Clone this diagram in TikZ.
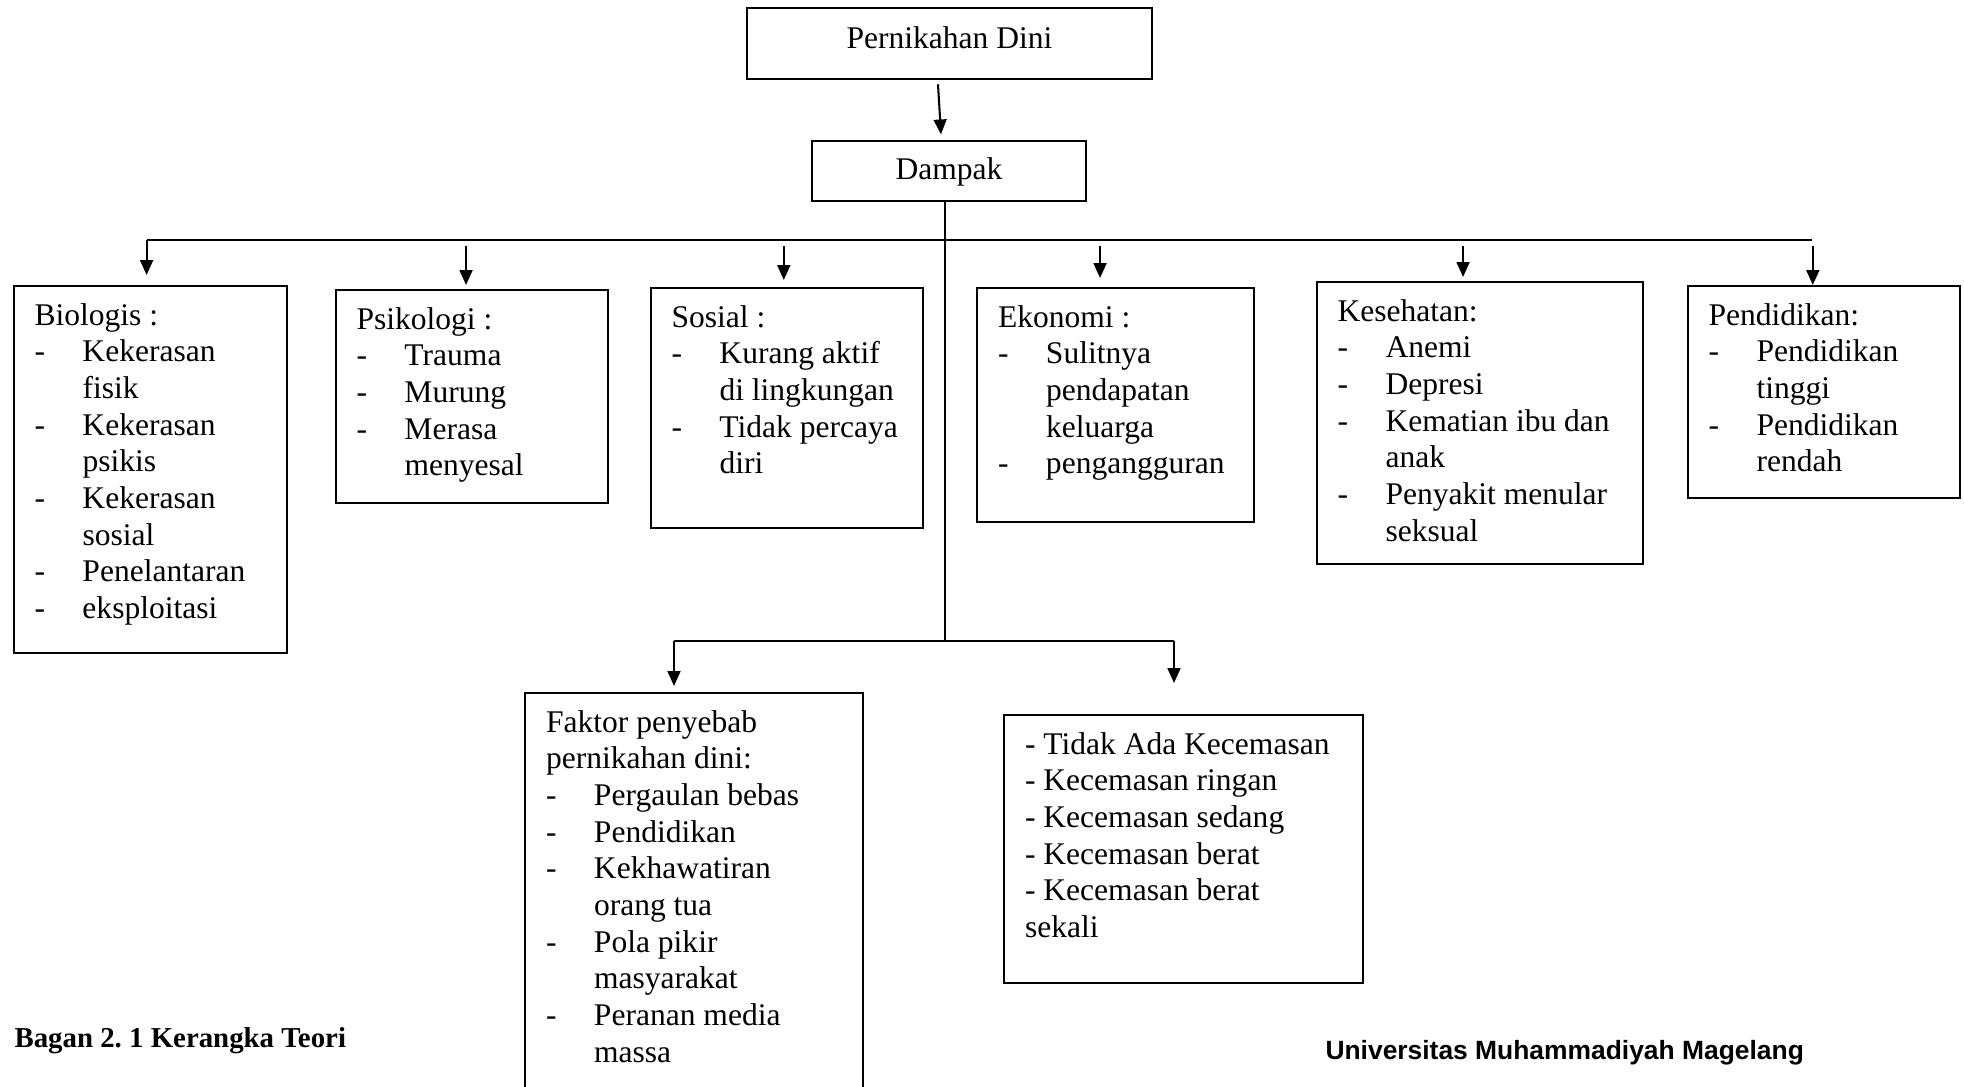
\documentclass[tikz,border=0pt]{standalone}
\usepackage{fontspec}
\setmainfont{Liberation Serif}
\newfontfamily\arialfont{Liberation Sans}
\usepackage{array}
\usepackage{tikz}
\usetikzlibrary{arrows.meta}
\usetikzlibrary{calc}
\newlength\pxl
\setlength\pxl{0.39pt}
\newcommand{\isibox}[3]{\parbox[c][#2\pxl][t]{#1\pxl}{\vspace*{5.2pt}#3}}
\newcommand{\judul}[1]{\multicolumn{2}{@{}l@{}}{#1}}
\newenvironment{daftar}{\begin{tabular}[t]{@{}p{18.7pt}@{}l@{}}}{\end{tabular}}
\tikzset{
  kotak/.style={draw, line width=0.8pt, anchor=north west, inner xsep=8.2pt, inner ysep=0pt},
  kotakjudul/.style={draw, line width=0.8pt, inner sep=0pt},
  garis/.style={line width=0.8pt},
  panah/.style={garis, -{Triangle[length=5.8pt,width=5pt]}}
}

\begin{document}
\begin{tikzpicture}[x=0.39pt, y=-0.39pt, font=\fontsize{12.3}{14.3}\selectfont]
    % Cadre
    \useasboundingbox (0,0) rectangle (1964,1086);
    \clip (0,0) rectangle (1964,1086);

    % Boites du haut
    \node[kotakjudul, minimum width=158pt, minimum height=27.5pt, text depth=4.9pt] (nikah) at (949.5,43.5) {Pernikahan Dini};
    \node[kotakjudul, minimum width=106.9pt, minimum height=23.5pt, text depth=2pt] (dampak) at (949,171) {Dampak};
    \draw[panah] ($(nikah.south)+(-11.5,4.5)$) -- ($(dampak.north)+(-8,-5.5)$);

    % Boites des dampak
    \node[kotak] (biologis) at (12.5,285) {\isibox{231}{367}{\begin{daftar}
        \judul{Biologis :}\\
        - & Kekerasan\\ & fisik\\
        - & Kekerasan\\ & psikis\\
        - & Kekerasan\\ & sosial\\
        - & Penelantaran\\
        - & eksploitasi
      \end{daftar}}};
    \node[kotak] (psikologi) at (334.5,289) {\isibox{230}{213}{\begin{daftar}
        \judul{Psikologi :}\\
        - & Trauma\\
        - & Murung\\
        - & Merasa\\ & menyesal
      \end{daftar}}};
    \node[kotak] (sosial) at (649.5,287) {\isibox{230.5}{240}{\begin{daftar}
        \judul{Sosial :}\\
        - & Kurang aktif\\ & di lingkungan\\
        - & Tidak percaya\\ & diri
      \end{daftar}}};
    \node[kotak] (ekonomi) at (976,287) {\isibox{235}{234}{\begin{daftar}
        \judul{Ekonomi :}\\
        - & Sulitnya\\ & pendapatan\\ & keluarga\\
        - & pengangguran
      \end{daftar}}};
    \node[kotak] (kesehatan) at (1315.5,281) {\isibox{284}{282}{\begin{daftar}
        \judul{Kesehatan:}\\
        - & Anemi\\
        - & Depresi\\
        - & Kematian ibu dan\\ & anak\\
        - & Penyakit menular\\ & seksual
      \end{daftar}}};
    \node[kotak] (pendidikan) at (1686.5,285) {\isibox{230.5}{212}{\begin{daftar}
        \judul{Pendidikan:}\\
        - & Pendidikan\\ & tinggi\\
        - & Pendidikan\\ & rendah
      \end{daftar}}};

    % Boites du bas
    \node[kotak] (faktor) at (524,692) {\isibox{296}{420}{\begin{daftar}
        \judul{Faktor penyebab}\\
        \judul{pernikahan dini:}\\
        - & Pergaulan bebas\\
        - & Pendidikan\\
        - & Kekhawatiran\\ & orang tua\\
        - & Pola pikir\\ & masyarakat\\
        - & Peranan media\\ & massa
      \end{daftar}}};
    \node[kotak] (kecemasan) at (1003,714) {\isibox{317}{268}{\begin{tabular}[t]{@{}l@{}}
        - Tidak Ada Kecemasan\\
        - Kecemasan ringan\\
        - Kecemasan sedang\\
        - Kecemasan berat\\
        - Kecemasan berat\\
        sekali
      \end{tabular}}};

    % Lignes de branchement
    \coordinate (busK) at (146.6,240);
    \coordinate (busKa) at (1812,240);
    \coordinate (simpang) at (945,641);
    \coordinate (cabK) at (674,641);
    \coordinate (cabKa) at (1174,641);
    \draw[garis] (dampak.south -| simpang) -- (simpang);
    \draw[garis] (busK) -- (busKa);
    \draw[garis] (cabK) -- (cabKa);

    % Fleches vers les dampak
    \draw[panah] (busK) -- ($(busK |- biologis.north)+(0,-10)$);
    \draw[panah] ($(busK -| psikologi.north)+(-5.5,6)$) -- ($(psikologi.north)+(-5.5,-4)$);
    \draw[panah] ($(busK -| sosial.north)+(-3,6)$) -- ($(sosial.north)+(-3,-7)$);
    \draw[panah] ($(busK -| ekonomi.north)+(-15.5,6)$) -- ($(ekonomi.north)+(-15.5,-9)$);
    \draw[panah] ($(busK -| kesehatan.north)+(-16.5,6)$) -- ($(kesehatan.north)+(-16.5,-4)$);
    \draw[panah] ($(busK -| pendidikan.north)+(-11,6)$) -- ($(pendidikan.north)+(-11,0)$);

    % Fleches du bas
    \draw[panah] (cabK) -- ($(cabK |- faktor.north)+(0,-6)$);
    \draw[panah] (cabKa) -- ($(cabKa |- kecemasan.north)+(0,-31)$);

    % Legendes
    \node[anchor=base west, inner sep=0pt, font=\fontsize{11.25}{13}\selectfont\bfseries] (bagan) at (14,1047) {Bagan 2.\ 1 Kerangka Teori};
    \node[anchor=base west, inner sep=0pt, font=\arialfont\fontsize{10.3}{12}\selectfont\bfseries] (univ) at (1325,1059) {Universitas Muhammadiyah Magelang};
\end{tikzpicture}
\end{document}
